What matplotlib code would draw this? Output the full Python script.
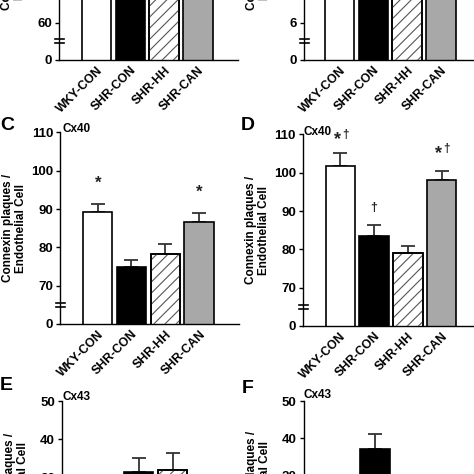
import matplotlib
matplotlib.use('Agg')
import matplotlib.pyplot as plt

plt.rcParams['font.family'] = ['Liberation Sans', 'DejaVu Sans']
plt.rcParams['font.weight'] = 'bold'
plt.rcParams['hatch.linewidth'] = 0.8

# groups and values
groups = ['WKY-CON', 'SHR-CON', 'SHR-HH', 'SHR-CAN']

a_mean = [88, 80, 83, 86]          # panel A, bars run above the crop
a_err = [2, 2, 2, 2]
b_mean = [8.6, 7.6, 7.9, 8.3]      # panel B, bars run above the crop
b_err = [0.3, 0.3, 0.3, 0.3]
c_mean = [89.3, 74.8, 78.4, 86.7]  # Cx40, panel C
c_err = [2.1, 1.9, 2.6, 2.2]
d_mean = [101.9, 83.6, 79.1, 98.1] # Cx40, panel D
d_err = [3.3, 2.9, 1.9, 2.4]
e_mean = [24, 31.2, 31.8, 25]      # Cx43, panel E
e_err = [3, 3.9, 4.6, 3]
f_mean = [25, 37.3, 26, 24]        # Cx43, panel F
f_err = [2.5, 3.8, 2, 2.5]

# significance marks: (bar, star, dagger, y)
c_marks = [(0, True, False, 96.7), (3, True, False, 94.4)]
d_marks = [(0, True, True, 108.8), (1, False, True, 90.9), (3, True, True, 105.1)]

W = 474
fig = plt.figure(figsize=(4.74, 4.74), dpi=100)
x = [0, 1, 2, 3]
PX_X = 33.8  # pixels per group


def add_ax(x0, y_bot, xlim, px_y, ylim):
    w = (xlim[1] - xlim[0]) * PX_X
    h = (ylim[1] - ylim[0]) * px_y
    ax = fig.add_axes([x0 / W, (W - y_bot) / W, w / W, h / W])
    ax.set_xlim(xlim)
    ax.set_ylim(ylim)
    return ax, w


def draw(ax, w, mean, err, yticks, ylabels, brk=None):
    fills = ['white', 'black', 'white', '#a8a8a8']
    ax.errorbar(x, mean, yerr=[[0] * 4, err], fmt='none', ecolor='#333333',
                elinewidth=1.3, capsize=5, capthick=1.3, zorder=1)
    ax.bar(x, mean, width=0.87, color=fills, edgecolor='black', linewidth=1.2, zorder=2)
    ax.bar(x[2], mean[2], width=0.87, color='none', edgecolor='#555555',
           hatch='///', linewidth=0, zorder=3)
    ax.bar(x[2], mean[2], width=0.87, color='none', edgecolor='black',
           linewidth=1.2, zorder=4)
    for s in ['top', 'right']:
        ax.spines[s].set_visible(False)
    ax.spines['left'].set_linewidth(1.0)
    ax.spines['bottom'].set_linewidth(1.0)
    ax.set_yticks(yticks)
    ax.set_yticklabels(ylabels, fontsize=9.5, fontweight='bold')
    ax.tick_params(axis='y', direction='out', length=3, width=1, pad=2)
    ax.set_xticks(x)
    ax.set_xticklabels(groups, rotation=45, ha='right', rotation_mode='anchor',
                       fontsize=8.8, fontweight='bold')
    ax.tick_params(axis='x', length=0, pad=3)
    ax.set_ylabel('Connexin plaques /\nEndothelial Cell', fontsize=8.5,
                  fontweight='bold', linespacing=1.1)
    ax.yaxis.set_label_coords(-33 / w, 0.5)
    if brk is not None:
        tr = ax.get_yaxis_transform()
        lo, hi = ax.get_ylim()
        off = 0.5 * (hi - lo) / 50
        for yy in (brk - off, brk + off):
            ax.plot([-4 / w, 5 / w], [yy, yy], color='black', lw=1.2,
                    transform=tr, clip_on=False, zorder=5)


def marks(ax, items):
    for i, star, dagger, yy in items:
        if star and dagger:
            ax.text(x[i] + 0.02, yy, '*', ha='right', va='center', fontsize=13, color='#222222')
            ax.text(x[i] + 0.06, yy + 1.0, '†', ha='left', va='center', fontsize=8.5, color='#222222')
        elif star:
            ax.text(x[i], yy, '*', ha='center', va='center', fontsize=12, color='#222222')
        else:
            ax.text(x[i], yy, '†', ha='center', va='center', fontsize=9, color='#222222')


def ftext(px, py, s, **kw):
    fig.text(px / W, 1 - py / W, s, va='baseline', **kw)


# top row (cut off)
ax, w = add_ax(59, 60, (-1.11, 4.2), 3.73, (50, 106))
draw(ax, w, a_mean, a_err, [50, 60, 70, 80, 90, 100], ['0', '60', '70', '80', '90', '100'], brk=55)
ax, w = add_ax(303.7, 60, (-1.06, 5.0), 37.3, (5, 10.6))
draw(ax, w, b_mean, b_err, [5, 6, 7, 8, 9, 10], ['0', '6', '7', '8', '9', '10'], brk=5.5)

# middle row, Cx40
ax, w = add_ax(60, 324, (-1.115, 4.19), 3.83, (60, 110))
draw(ax, w, c_mean, c_err, [60, 70, 80, 90, 100, 110], ['0', '70', '80', '90', '100', '110'], brk=65)
marks(ax, c_marks)

ax, w = add_ax(302.7, 326, (-1.11, 5.0), 3.83, (60, 110))
draw(ax, w, d_mean, d_err, [60, 70, 80, 90, 100, 110], ['0', '70', '80', '90', '100', '110'], brk=65)
marks(ax, d_marks)

# bottom row, Cx43 (cut off)
ax, w = add_ax(62, 572, (-1.27, 4.0), 3.8, (5, 50))
draw(ax, w, e_mean, e_err, [5, 10, 20, 30, 40, 50], ['0', '10', '20', '30', '40', '50'])
ax, w = add_ax(303.7, 569, (-1.115, 5.0), 3.73, (5, 50))
draw(ax, w, f_mean, f_err, [5, 10, 20, 30, 40, 50], ['0', '10', '20', '30', '40', '50'])

# panel letters and connexin labels
ftext(0, 130, 'C', fontsize=14, fontweight='bold')
ftext(241, 130, 'D', fontsize=14, fontweight='bold')
ftext(0, 390, 'E', fontsize=14, fontweight='bold')
ftext(242, 393, 'F', fontsize=14, fontweight='bold')
ftext(62, 132, 'Cx40', fontsize=8.5, fontweight='bold')
ftext(303, 135, 'Cx40', fontsize=8.5, fontweight='bold')
ftext(63, 400, 'Cx43', fontsize=8.5, fontweight='bold')
ftext(304, 398, 'Cx43', fontsize=8.5, fontweight='bold')

fig.savefig('out.png', dpi=100)
